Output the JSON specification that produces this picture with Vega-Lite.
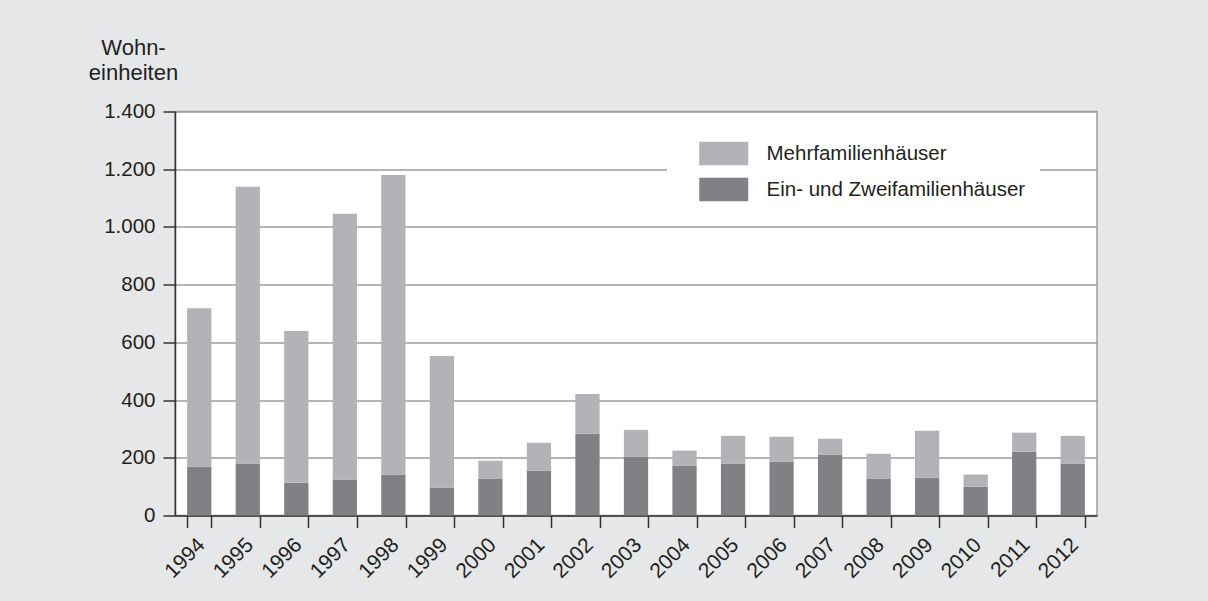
{
  "$schema": "https://vega.github.io/schema/vega-lite/v6.json",
  "autosize": {"type": "none"},
  "padding": {"left": 175, "top": 111.5, "right": 111, "bottom": 85.5},
  "width": 922,
  "height": 404,
  "background": "#e6e7e8",
  "config": {
    "font": "Liberation Sans",
    "view": {"fill": "white", "stroke": "#9d9d9d", "strokeWidth": 1.5},
    "axis": {"labelColor": "#231f20", "titleColor": "#231f20", "domainColor": "#333333", "tickColor": "#333333", "domainWidth": 1.5, "tickWidth": 1.5}
  },
  "data": {
    "values": [
      {"Jahr": "1994", "Typ": "Ein- und Zweifamilienhäuser", "Wert": 170},
      {"Jahr": "1994", "Typ": "Mehrfamilienhäuser", "Wert": 548},
      {"Jahr": "1995", "Typ": "Ein- und Zweifamilienhäuser", "Wert": 180},
      {"Jahr": "1995", "Typ": "Mehrfamilienhäuser", "Wert": 959},
      {"Jahr": "1996", "Typ": "Ein- und Zweifamilienhäuser", "Wert": 114},
      {"Jahr": "1996", "Typ": "Mehrfamilienhäuser", "Wert": 525},
      {"Jahr": "1997", "Typ": "Ein- und Zweifamilienhäuser", "Wert": 125},
      {"Jahr": "1997", "Typ": "Mehrfamilienhäuser", "Wert": 921},
      {"Jahr": "1998", "Typ": "Ein- und Zweifamilienhäuser", "Wert": 142},
      {"Jahr": "1998", "Typ": "Mehrfamilienhäuser", "Wert": 1038},
      {"Jahr": "1999", "Typ": "Ein- und Zweifamilienhäuser", "Wert": 97},
      {"Jahr": "1999", "Typ": "Mehrfamilienhäuser", "Wert": 456},
      {"Jahr": "2000", "Typ": "Ein- und Zweifamilienhäuser", "Wert": 128},
      {"Jahr": "2000", "Typ": "Mehrfamilienhäuser", "Wert": 62},
      {"Jahr": "2001", "Typ": "Ein- und Zweifamilienhäuser", "Wert": 155},
      {"Jahr": "2001", "Typ": "Mehrfamilienhäuser", "Wert": 97},
      {"Jahr": "2002", "Typ": "Ein- und Zweifamilienhäuser", "Wert": 283},
      {"Jahr": "2002", "Typ": "Mehrfamilienhäuser", "Wert": 138},
      {"Jahr": "2003", "Typ": "Ein- und Zweifamilienhäuser", "Wert": 203},
      {"Jahr": "2003", "Typ": "Mehrfamilienhäuser", "Wert": 94},
      {"Jahr": "2004", "Typ": "Ein- und Zweifamilienhäuser", "Wert": 172},
      {"Jahr": "2004", "Typ": "Mehrfamilienhäuser", "Wert": 53},
      {"Jahr": "2005", "Typ": "Ein- und Zweifamilienhäuser", "Wert": 179},
      {"Jahr": "2005", "Typ": "Mehrfamilienhäuser", "Wert": 97},
      {"Jahr": "2006", "Typ": "Ein- und Zweifamilienhäuser", "Wert": 186},
      {"Jahr": "2006", "Typ": "Mehrfamilienhäuser", "Wert": 87},
      {"Jahr": "2007", "Typ": "Ein- und Zweifamilienhäuser", "Wert": 210},
      {"Jahr": "2007", "Typ": "Mehrfamilienhäuser", "Wert": 56},
      {"Jahr": "2008", "Typ": "Ein- und Zweifamilienhäuser", "Wert": 128},
      {"Jahr": "2008", "Typ": "Mehrfamilienhäuser", "Wert": 86},
      {"Jahr": "2009", "Typ": "Ein- und Zweifamilienhäuser", "Wert": 131},
      {"Jahr": "2009", "Typ": "Mehrfamilienhäuser", "Wert": 163},
      {"Jahr": "2010", "Typ": "Ein- und Zweifamilienhäuser", "Wert": 100},
      {"Jahr": "2010", "Typ": "Mehrfamilienhäuser", "Wert": 42},
      {"Jahr": "2011", "Typ": "Ein- und Zweifamilienhäuser", "Wert": 221},
      {"Jahr": "2011", "Typ": "Mehrfamilienhäuser", "Wert": 66},
      {"Jahr": "2012", "Typ": "Ein- und Zweifamilienhäuser", "Wert": 179},
      {"Jahr": "2012", "Typ": "Mehrfamilienhäuser", "Wert": 97}
    ]
  },
  "mark": {"type": "bar"},
  "encoding": {
    "x": {
      "field": "Jahr",
      "type": "ordinal",
      "scale": {"paddingInner": 0.5, "paddingOuter": 0.25},
      "axis": {
        "title": null,
        "labelAngle": -45,
        "labelAlign": "right",
        "labelBaseline": "middle",
        "labelFontSize": 21,
        "labelPadding": 14,
        "labelOffset": 2,
        "tickBand": "extent",
        "tickSize": 12,
        "grid": false
      }
    },
    "y": {
      "field": "Wert",
      "type": "quantitative",
      "aggregate": "sum",
      "stack": "zero",
      "scale": {"domain": [0, 1400], "nice": false},
      "axis": {
        "values": [0, 200, 400, 600, 800, 1000, 1200, 1400],
        "labelExpr": "replace(format(datum.value, ','), ',', '.')",
        "labelFontSize": 20.5,
        "labelPadding": 8,
        "tickSize": 12,
        "grid": true,
        "gridColor": "#9d9d9d",
        "gridWidth": 1.5,
        "title": ["Wohn-", "einheiten"],
        "titleAngle": 0,
        "titleAlign": "center",
        "titleBaseline": "top",
        "titleX": -42,
        "titleY": -74,
        "titleFontSize": 22,
        "titleFontWeight": "normal",
        "titleLineHeight": 24.5
      }
    },
    "order": {"field": "Typ", "type": "nominal", "sort": "ascending"},
    "color": {
      "field": "Typ",
      "type": "nominal",
      "scale": {
        "domain": ["Mehrfamilienhäuser", "Ein- und Zweifamilienhäuser"],
        "range": ["#b2b3b6", "#808184"]
      },
      "legend": {
        "title": null,
        "orient": "none",
        "legendX": 492,
        "legendY": 15.5,
        "fillColor": "white",
        "padding": 14,
        "symbolType": "M-2,-0.96H2V0.96H-2Z",
        "symbolSize": 600,
        "symbolStrokeWidth": 0,
        "symbolOpacity": 1,
        "symbolOffset": 30.25,
        "labelOffset": 30.25,
        "labelFontSize": 20.5,
        "labelLimit": 400,
        "labelColor": "#231f20",
        "rowPadding": 11
      }
    }
  }
}
